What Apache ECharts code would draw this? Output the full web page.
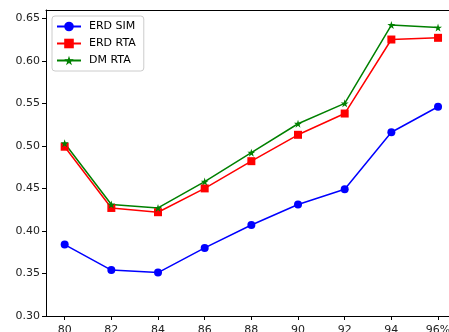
<!DOCTYPE html>
<html>
<head>
<meta charset="utf-8">
<script src="https://cdn.jsdelivr.net/npm/echarts@6/dist/echarts.min.js"></script>
<style>
  html, body { margin: 0; padding: 0; background: #fff; }
  #chart { width: 449px; height: 332px; }
</style>
</head>
<body>
<div id="chart"></div>
<script>
// Threshold levels (%) on the x axis
const xValues = [80, 82, 84, 86, 88, 90, 92, 94, 96];
const xTickLabels = ['80', '82', '84', '86', '88', '90', '92', '94', '96%'];
const yTicks = [0.30, 0.35, 0.40, 0.45, 0.50, 0.55, 0.60, 0.65];

const erdSim = [0.384, 0.354, 0.351, 0.380, 0.407, 0.431, 0.449, 0.516, 0.546];
const erdRta = [0.499, 0.427, 0.422, 0.450, 0.482, 0.513, 0.538, 0.625, 0.627];
const dmRta  = [0.503, 0.431, 0.427, 0.458, 0.492, 0.526, 0.550, 0.642, 0.639];

const seriesNames = ['ERD SIM', 'ERD RTA', 'DM RTA'];

const STAR = 'path://M100 0 L122.45 69.1 L195.11 69.1 L136.33 111.8 L158.78 180.9 L100 138.2 L41.22 180.9 L63.67 111.8 L4.89 69.1 L77.55 69.1 Z';

const pairs = vals => xValues.map((x, i) => [x, vals[i]]);
const font = 'DejaVu Sans';

const chart = echarts.init(document.getElementById('chart'), null, { renderer: 'canvas' });

function lineSeries(name, vals, color, symbol, size) {
  return {
    name: name,
    type: 'line',
    data: pairs(vals),
    symbol: symbol,
    symbolSize: size,
    showAllSymbol: true,
    lineStyle: { color: color, width: 1.5 },
    itemStyle: { color: color, borderWidth: 0 },
    emphasis: { disabled: true },
    animation: false
  };
}

// The plot area runs past the right edge of the canvas, so the x range
// extends beyond 96 and only left/top/bottom spines are drawn.
const X_MIN = 79.2, X_MAX = 96.47;

chart.setOption({
  animation: false,
  backgroundColor: '#fff',
  grid: {
    left: 46, top: 10, bottom: 16, right: 0,
    show: false,
    containLabel: false,
    outerBoundsMode: 'none'
  },
  legend: {
    orient: 'vertical',
    left: 52, top: 16,
    data: seriesNames,
    itemWidth: 24, itemHeight: 12, itemGap: 6,
    padding: [5, 8, 5, 4],
    borderColor: '#cccccc', borderWidth: 1, borderRadius: 3,
    backgroundColor: 'rgba(255,255,255,0.8)',
    textStyle: { fontFamily: font, fontSize: 11, color: '#000', padding: [0, 0, 0, 3] },
    selectedMode: false
  },
  xAxis: [{
    type: 'value',
    position: 'bottom',
    min: X_MIN, max: X_MAX,
    axisLine: { show: true, onZero: false, lineStyle: { color: '#000', width: 1 } },
    axisTick: { show: true, inside: false, length: 4, customValues: xValues, lineStyle: { color: '#000' } },
    axisLabel: {
      customValues: xValues,
      margin: 9,
      fontFamily: font, fontSize: 11, color: '#222',
      formatter: v => xTickLabels[xValues.indexOf(Math.round(v))]
    },
    splitLine: { show: false }
  }, {
    // top spine
    type: 'value',
    position: 'top',
    min: X_MIN, max: X_MAX,
    axisLine: { show: true, onZero: false, lineStyle: { color: '#000', width: 1 } },
    axisTick: { show: false },
    axisLabel: { show: false },
    splitLine: { show: false }
  }],
  yAxis: {
    type: 'value',
    min: 0.30, max: 0.6597,
    axisLine: { show: true, onZero: false, lineStyle: { color: '#000', width: 1 } },
    axisTick: { show: true, inside: false, length: 4, customValues: yTicks, lineStyle: { color: '#000' } },
    axisLabel: {
      customValues: yTicks,
      margin: 6,
      fontFamily: font, fontSize: 11, color: '#222',
      formatter: v => v.toFixed(2)
    },
    splitLine: { show: false }
  },
  series: [
    lineSeries(seriesNames[0], erdSim, '#0000ff', 'circle', 8),
    lineSeries(seriesNames[1], erdRta, '#ff0000', 'rect', 8),
    lineSeries(seriesNames[2], dmRta, '#008000', STAR, 8)
  ]
});
</script>
</body>
</html>
